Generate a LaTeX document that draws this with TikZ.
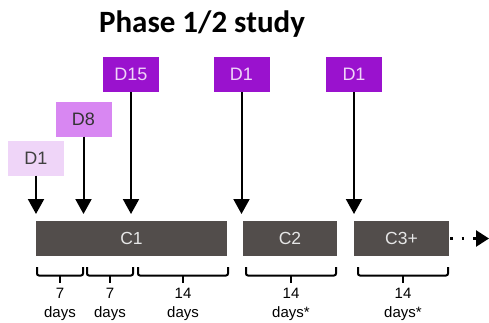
\documentclass[tikz,border=0pt]{standalone}
\usepackage{fontspec}
\setmainfont{Liberation Sans}
\newfontfamily\titlefont{Carlito}
\usetikzlibrary{arrows.meta}
\definecolor{dpurple}{HTML}{9A12CE}
\definecolor{mpurple}{HTML}{D887F2}
\definecolor{lpurple}{HTML}{EFD5F8}
\definecolor{bargray}{HTML}{524D4B}
\definecolor{bartext}{HTML}{E6E6E6}
\tikzset{
  daybox/.style={minimum width=56pt,minimum height=35pt,inner sep=0pt,font=\fontsize{18}{20}\selectfont},
  cyclebar/.style={fill=bargray,minimum height=35pt,inner sep=0pt,text=bartext,font=\fontsize{17.5}{20}\selectfont},
  downarrow/.style={line width=2pt,-{Triangle[width=16pt,length=15pt]}},
  brk/.style={line width=2pt,rounded corners=2pt},
  durlabel/.style={align=center,anchor=north,inner sep=0pt,font=\fontsize{15}{19}\selectfont}
}
\begin{document}
\begin{tikzpicture}[x=1pt,y=-1pt]
\useasboundingbox (0,0) rectangle (489,322);
\node[font=\titlefont\bfseries\fontsize{31}{34}\selectfont,anchor=base] (title) at (202,32) {Phase 1/2 study};
% day boxes
\node[daybox,fill=lpurple,text=black!75] (d1a) at (36,158) {D1};
\node[daybox,fill=mpurple,text=black!80] (d8) at (83.5,119) {D8};
\node[daybox,fill=dpurple,text=lpurple] (d15) at (131,74.5) {D15};
\node[daybox,fill=dpurple,text=lpurple] (d1b) at (241.5,74.5) {D1};
\node[daybox,fill=dpurple,text=lpurple] (d1c) at (354,74.5) {D1};
% cycle bars
\node[cyclebar,minimum width=191pt] (c1) at (131.5,238.5) {C1};
\node[cyclebar,minimum width=94pt] (c2) at (290,238.5) {C2};
\node[cyclebar,minimum width=95pt] (c3) at (401.5,238.5) {C3+};
% arrow tips
\coordinate (t1) at (36,214);
\coordinate (t2) at (83.5,214);
\coordinate (t3) at (131,214);
\coordinate (t4) at (241.5,214);
\coordinate (t5) at (354,214);
\draw[downarrow] (d1a.south) -- (t1);
\draw[downarrow] (d8.south) -- (t2);
\draw[downarrow] (d15.south) -- (t3);
\draw[downarrow] (d1b.south) -- (t4);
\draw[downarrow] (d1c.south) -- (t5);
% continuation
\coordinate (cont) at (489,238.5);
\draw[line width=2.5pt,dash pattern=on 2.5pt off 9pt,dash phase=-1pt,-{Triangle[width=16pt,length=13pt,sep=0pt]}] (c3.east) -- (cont);
% brackets
\foreach \a/\b in {37/83,87/133,138/228,246/336,358/448}{
  \draw[brk] (\a,267) -- (\a,275.5) -- (\b,275.5) -- (\b,267);
  \draw[line width=2pt] ({(\a+\b)/2},275.5) -- ++(0,7);
}
\node[durlabel] (l1) at (60,288) {7\\days};
\node[durlabel] (l2) at (110,288) {7\\days};
\node[durlabel] (l3) at (183,288) {14\\days};
\node[durlabel] (l4) at (291,288) {14\\days*};
\node[durlabel] (l5) at (403,288) {14\\days*};
\end{tikzpicture}
\end{document}
